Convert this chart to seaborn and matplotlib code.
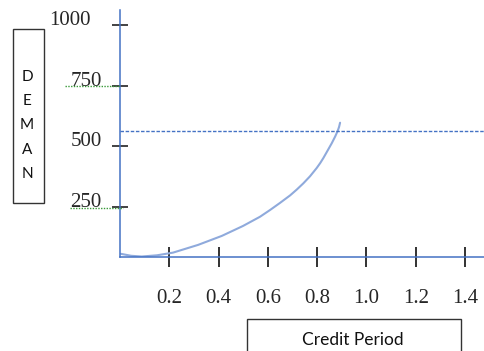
import matplotlib
matplotlib.use("Agg")
import matplotlib.pyplot as plt
import matplotlib.transforms as mtransforms
from matplotlib.patches import Rectangle
from matplotlib.lines import Line2D
import seaborn as sns

# curve
credit_period = [0.004, 0.045, 0.088, 0.150, 0.215, 0.317, 0.413, 0.499,
                 0.568, 0.609, 0.649, 0.690, 0.717, 0.744, 0.771, 0.798,
                 0.812, 0.825, 0.844, 0.859, 0.873, 0.884, 0.889, 0.893]
demand = [56, 48, 45, 50, 61, 93, 130, 171, 209, 237, 266, 297, 321, 347,
          376, 410, 430, 451, 485, 512, 540, 565, 580, 597]
demand_level = 564

x_ticks = [0.2, 0.4, 0.6, 0.8, 1.0, 1.2, 1.4]
x_tick_labels = ["0.2", "0.4", "0.6", "0.8", "1.0", "1.2", "1.4"]
y_ticks = [250, 500, 750, 1000]
y_tick_labels = ["250", "500", "750", "1000"]
y_label_letters = ["D", "E", "M", "A", "N"]
x_label = "Credit Period"

sns.set_style("white")

W, H = 485, 351
fig = plt.figure(figsize=(W / 100, H / 100), dpi=100)
ax = fig.add_axes([120 / W, 1 - 257 / H, 365 / W, 247 / H])

blue = "#4472C4"
sns.lineplot(x=credit_period, y=demand, ax=ax, color="#8FAADC",
             linewidth=1.5, estimator=None)
ax.axhline(demand_level, color=blue, linewidth=1.0, linestyle=(0, (2.5, 1.2)))

ax.set_xlim(0, 1.481)
ax.set_ylim(43, 1062)

for side in ["top", "right"]:
    ax.spines[side].set_visible(False)
for side in ["left", "bottom"]:
    ax.spines[side].set_color(blue)
    ax.spines[side].set_linewidth(1.1)

serif = "Liberation Serif"
ax.set_xticks(x_ticks)
ax.set_xticklabels(x_tick_labels, fontfamily=serif, fontsize=15)
ax.set_yticks(y_ticks)
ax.set_yticklabels(y_tick_labels, fontfamily=serif, fontsize=15,
                   ha="center", va="baseline")
ax.tick_params(axis="x", bottom=True, direction="inout", length=14.4,
               width=1.3, color="#222222", pad=16)
ax.tick_params(axis="y", left=True, direction="inout", length=11.2,
               width=1.2, color="#222222", pad=19)
ax.set_xlabel("")
ax.set_ylabel("")

# the 1000 label sits further left in the sketch
lbl = ax.get_yticklabels()[-1]
lbl.set_transform(lbl.get_transform() +
                  mtransforms.ScaledTranslation(-16 / 100, 0, fig.dpi_scale_trans))

# green spell-check squiggles under 750 and 250
for x0, x1, yy in [(65, 120, 86), (70, 123, 207.5)]:
    fig.add_artist(Line2D([x0 / W, x1 / W], [1 - yy / H, 1 - yy / H],
                          color="#3a9a3a", linewidth=1.0, linestyle=(0, (1, 1))))

# vertical "DEMAN" box
fig.add_artist(Rectangle((13.3 / W, 1 - 203 / H), 30.7 / W, 173.7 / H,
                         fill=False, edgecolor="#333333", linewidth=1.0))
for i, ch in enumerate(y_label_letters):
    fig.text(27 / W, 1 - (77 + i * 24.2) / H, ch, ha="center", va="center",
             fontfamily="Lato", fontsize=11, color="#111111")

# "Credit Period" box, cut off at the bottom
fig.add_artist(Rectangle((247 / W, 1 - 358 / H), 213.7 / W, 38.7 / H,
                         fill=False, edgecolor="#333333", linewidth=1.0,
                         clip_on=False))
fig.text(352.5 / W, 1 - 340 / H, x_label, ha="center", va="center",
         fontfamily="Lato", fontsize=12.5, color="#111111")

fig.savefig("out.png", dpi=100)
